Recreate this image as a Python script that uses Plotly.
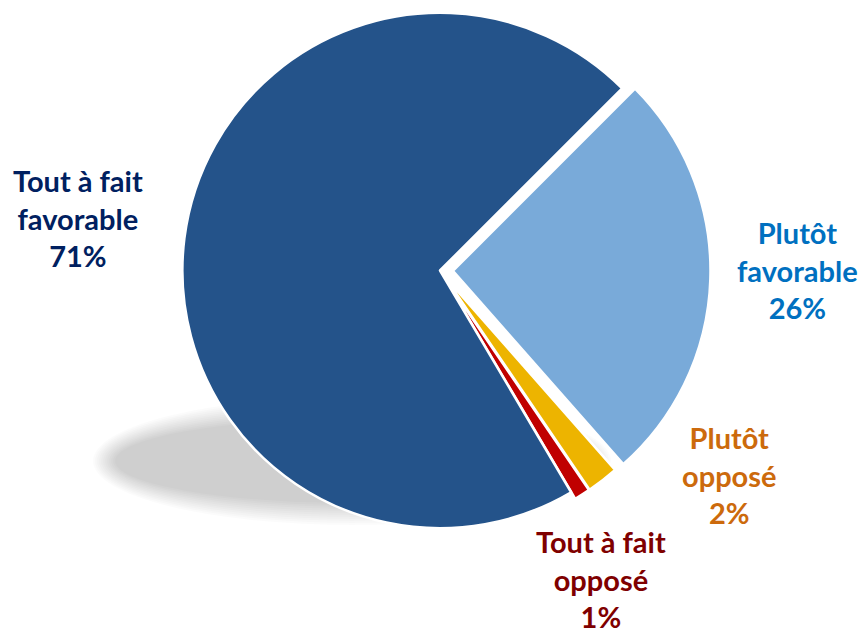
import plotly.graph_objects as go

# Survey answers, in the order the slices are laid out clockwise
labels = ["Plutôt<br>favorable", "Plutôt<br>opposé", "Tout à fait<br>opposé", "Tout à fait<br>favorable"]
values = [26, 2, 1, 71]
slice_colors = ["#79AAD9", "#EDB400", "#C00000", "#24538A"]
label_colors = ["#0070C0", "#CC6A0C", "#7F0000", "#002060"]
pulls = [0.05, 0.03, 0.03, 0.0]

W, H = 866, 637

# label positions in pixels (centre of the text block)
label_pos = [(797, 270), (729, 475), (601, 579), (78, 218)]

fig = go.Figure()

fig.add_trace(go.Pie(
    labels=labels,
    values=values,
    sort=False,
    direction="clockwise",
    rotation=45,
    pull=pulls,
    marker=dict(colors=slice_colors, line=dict(color="white", width=2.5)),
    textinfo="none",
    hoverinfo="label+percent",
    showlegend=False,
    domain=dict(x=[168 / W, 712 / W], y=[1 - 541 / H, 1.0]),
))

# soft drop shadow under the pie: stacked translucent ellipses
shapes = []
cx, cy, rx, ry = 352, 461, 250, 55
for k in range(12):
    d = 9 - 2 * k
    shapes.append(dict(
        type="circle", xref="paper", yref="paper", layer="below",
        x0=(cx - rx - d) / W, x1=(cx + rx + d) / W,
        y0=1 - (cy + ry + d) / H, y1=1 - (cy - ry - d) / H,
        fillcolor="rgba(0,0,0,0.017)", line=dict(width=0),
    ))

annotations = []
for lab, val, col, (px, py) in zip(labels, values, label_colors, label_pos):
    annotations.append(dict(
        text=f"{lab}<br>{val}%",
        x=px / W, y=1 - py / H, xref="paper", yref="paper",
        xanchor="center", yanchor="middle", showarrow=False,
        font=dict(family="Lato", size=29, color=col, weight="bold"),
        align="center", borderpad=0,
    ))

fig.update_layout(
    width=W, height=H,
    margin=dict(l=0, r=0, t=0, b=0),
    paper_bgcolor="white",
    plot_bgcolor="white",
    shapes=shapes,
    annotations=annotations,
)

fig.write_html("out.html")
